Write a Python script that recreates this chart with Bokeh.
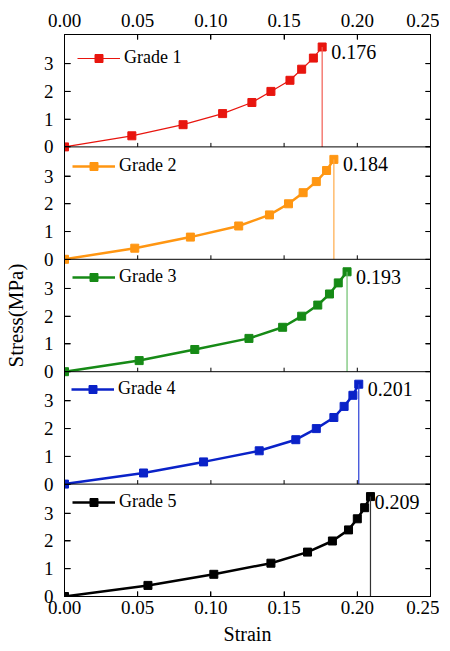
from bokeh.plotting import figure
from bokeh.models import (Range1d, LinearAxis, FixedTicker, Legend, LegendItem,
                          ColumnDataSource, NumeralTickFormatter, Span)
from bokeh.embed import file_html
from bokeh.resources import INLINE
from bokeh.core.properties import value

# ---- data ----
grades = ["Grade 1", "Grade 2", "Grade 3", "Grade 4", "Grade 5"]
stress = [0.0, 0.4, 0.8, 1.2, 1.6, 2.0, 2.4, 2.8, 3.2, 3.6]
strain_g1 = [0.0, 0.046, 0.081, 0.108, 0.128, 0.141, 0.154, 0.162, 0.170, 0.176]
strain_g2 = [0.0, 0.048, 0.086, 0.119, 0.140, 0.153, 0.163, 0.172, 0.179, 0.184]
strain_g3 = [0.0, 0.051, 0.089, 0.126, 0.149, 0.162, 0.173, 0.181, 0.187, 0.193]
strain_g4 = [0.0, 0.054, 0.095, 0.133, 0.158, 0.172, 0.184, 0.191, 0.197, 0.201]
strain_g5 = [0.0, 0.057, 0.102, 0.141, 0.166, 0.183, 0.194, 0.200, 0.205, 0.209]
failure_strain = [0.176, 0.184, 0.193, 0.201, 0.209]
x_ticks = [0.0, 0.05, 0.10, 0.15, 0.20, 0.25]
y_ticks = [0, 1, 2, 3]

strains = [strain_g1, strain_g2, strain_g3, strain_g4, strain_g5]
colors = ["#e8150e", "#ff9612", "#168a16", "#0a22c8", "#000000"]
vcolors = ["#f25c52", "#ffab4a", "#6cc06c", "#2a3fd6", "#333333"]
line_widths = [1.2, 2.5, 2.5, 2.5, 2.5]

FONT = "Liberation Serif"
NP = 5             # number of panels
YMAX = 4.05        # stress span of one panel
XMAX = 0.25
FRAME_W = 366
FRAME_H = 562
legend_loc = [(13, 528), (8, 420), (8, 309), (7, 197), (8, 84)]
text_dx = [9, 9, 9, 9, 4]

# one shared y-scale for axes (panel k counted from the bottom)
offsets = [(NP - 1 - k) * YMAX for k in range(NP)]
axis_ticks = []
axis_over = {}
for off in offsets:
    for t in y_ticks:
        v = round(off + t, 6)
        axis_ticks.append(v)
        axis_over[v] = str(t)

p = figure(frame_width=FRAME_W, frame_height=FRAME_H, width=434, height=34 + FRAME_H + 54,
           x_range=Range1d(0, XMAX), y_range=Range1d(0, NP * YMAX),
           output_backend="svg", toolbar_location=None,
           min_border_left=59, min_border_right=9, min_border_top=34, min_border_bottom=54)
p.outline_line_color = "black"
p.outline_line_width = 1
p.xgrid.visible = False
p.ygrid.visible = False

for k in range(NP):
    p.extra_y_ranges["g%d" % k] = Range1d(-offsets[k], NP * YMAX - offsets[k])


def style_axis(ax, ticks, labels=True, standoff=4, tick_in=5):
    ax.ticker = FixedTicker(ticks=ticks, minor_ticks=[])
    ax.major_tick_in = tick_in
    ax.major_tick_out = 0
    ax.minor_tick_line_color = None
    ax.axis_line_color = "black"
    ax.major_tick_line_color = "black"
    ax.major_tick_line_width = 1
    ax.major_label_text_font = FONT
    ax.major_label_text_color = "black"
    ax.major_label_text_font_size = "19px"
    ax.major_label_standoff = standoff
    if not labels:
        ax.major_label_text_font_size = "1px"
        ax.major_label_text_alpha = 0
        ax.major_label_standoff = 0


# left axis
la = p.yaxis[0]
style_axis(la, axis_ticks, standoff=11, tick_in=6)
la.major_label_overrides = axis_over
la.axis_label = "Stress(MPa)"
la.axis_label_text_font = FONT
la.axis_label_text_font_size = "21px"
la.axis_label_text_font_style = "normal"
la.axis_label_text_color = "black"
la.axis_label_standoff = 13

# bottom axis
ba = p.xaxis[0]
style_axis(ba, x_ticks, standoff=4)
ba.formatter = NumeralTickFormatter(format="0.00")
ba.axis_label = "Strain"
ba.axis_label_text_font = FONT
ba.axis_label_text_font_size = "20px"
ba.axis_label_text_font_style = "normal"
ba.axis_label_text_color = "black"
ba.axis_label_standoff = 6

# top axis
ta = LinearAxis(formatter=NumeralTickFormatter(format="0.00"))
style_axis(ta, x_ticks, standoff=8)
p.add_layout(ta, "above")

# right axis (ticks only)
ra = LinearAxis()
style_axis(ra, axis_ticks, labels=False)
p.add_layout(ra, "right")

# inward tick marks drawn explicitly (frame edges and panel separators)
px_x = XMAX / FRAME_W
px_y = NP * YMAX / FRAME_H
n = len(axis_ticks)
p.segment(x0=[0] * n, x1=[6 * px_x] * n, y0=axis_ticks, y1=axis_ticks,
          line_color="black", line_width=1)
p.segment(x0=[XMAX] * n, x1=[XMAX - 5 * px_x] * n, y0=axis_ticks, y1=axis_ticks,
          line_color="black", line_width=1)
m = len(x_ticks)
p.segment(x0=x_ticks, x1=x_ticks, y0=[NP * YMAX] * m, y1=[NP * YMAX - 5 * px_y] * m,
          line_color="black", line_width=1)
p.segment(x0=x_ticks, x1=x_ticks, y0=[0] * m, y1=[5 * px_y] * m,
          line_color="black", line_width=1)
for k in range(1, NP):
    p.add_layout(Span(location=k * YMAX, dimension="width", line_color="black", line_width=1))
    p.segment(x0=x_ticks, x1=x_ticks, y0=[k * YMAX] * m,
              y1=[k * YMAX + 4 * px_y] * m, line_color="black", line_width=1)

for i in range(NP):
    rn = "g%d" % i
    src = ColumnDataSource(dict(x=strains[i], y=stress))
    r_line = p.line("x", "y", source=src, line_color=colors[i],
                    line_width=line_widths[i], y_range_name=rn)
    r_sq = p.scatter("x", "y", source=src, marker="square", size=8,
                     fill_color=colors[i], line_color=colors[i], y_range_name=rn)
    p.segment(x0=[failure_strain[i]], y0=[stress[-1]], x1=[failure_strain[i]], y1=[0],
              line_color=vcolors[i], line_width=1.2, y_range_name=rn)
    p.text(x=[failure_strain[i]], y=[stress[-1]], text=["%.3f" % failure_strain[i]],
           x_offset=text_dx[i], y_offset=5, text_font=value(FONT),
           text_font_size="20px", text_baseline="middle", text_align="left",
           text_color="black", y_range_name=rn)

    legend = Legend(items=[LegendItem(label=grades[i], renderers=[r_line, r_sq])],
                    location=legend_loc[i], border_line_color=None,
                    background_fill_alpha=0, label_text_font=FONT,
                    label_text_font_size="18px", label_text_color="black",
                    glyph_width=43, glyph_height=20, label_height=20,
                    label_standoff=4, padding=0, margin=0, spacing=0)
    p.add_layout(legend)

open("out.html", "w").write(file_html(p, INLINE))
